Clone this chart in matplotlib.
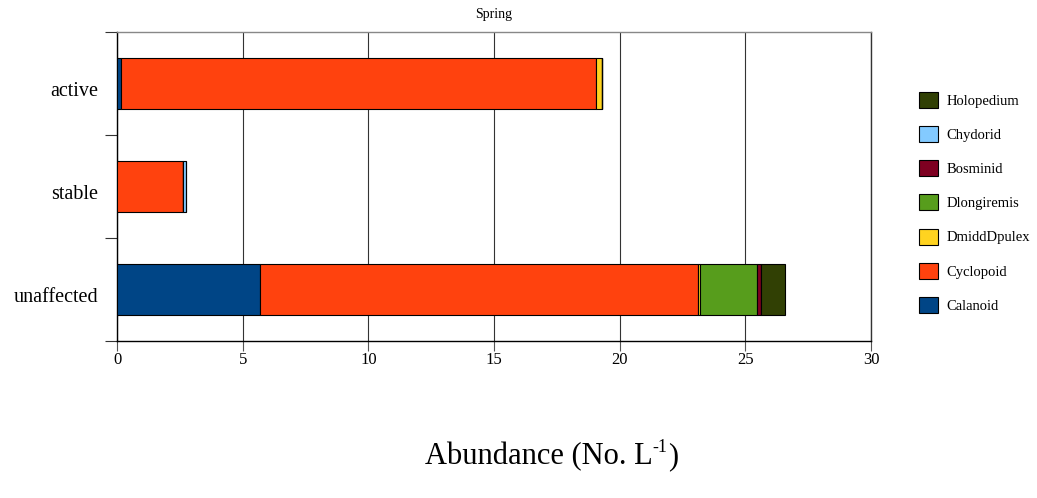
import matplotlib
matplotlib.use("Agg")
import matplotlib.pyplot as plt
import matplotlib.transforms as mtrans
import numpy as np

categories = ["unaffected", "stable", "active"]
species = ["Calanoid", "Cyclopoid", "DmiddDpulex", "Dlongiremis", "Bosminid", "Chydorid", "Holopedium"]
values = {
    "Calanoid":    [5.70, 0.00, 0.15],
    "Cyclopoid":   [17.43, 2.62, 18.90],
    "DmiddDpulex": [0.07, 0.00, 0.25],
    "Dlongiremis": [2.28, 0.00, 0.00],
    "Bosminid":    [0.15, 0.00, 0.00],
    "Chydorid":    [0.00, 0.12, 0.00],
    "Holopedium":  [0.95, 0.00, 0.00],
}
colors = ["#004586", "#ff420e", "#ffd320", "#579d1c", "#7e0021", "#83caff", "#314004"]
xticks = [0, 5, 10, 15, 20, 25, 30]

plt.rcParams['font.family'] = ['Liberation Serif', 'DejaVu Serif']

fig = plt.figure(figsize=(10.37, 4.98), dpi=100)
ax = fig.add_axes([117/1037, 1 - 341/498, (871-117)/1037, (341-32)/498])

y = np.arange(len(categories))
left = np.zeros(len(categories))
handles = []
for sp, c in zip(species, colors):
    v = np.array(values[sp])
    h = ax.barh(y, v, left=left, height=0.5, color=c, edgecolor="black", linewidth=0.8, label=sp, zorder=3)
    handles.append(h)
    left += v

ax.set_xlim(0, 30)
ax.set_ylim(-0.5, 2.5)
ax.set_xticks(xticks)
ax.set_xticklabels([str(t) for t in xticks], fontsize=12)
ax.tick_params(axis='x', length=7, width=0.8, color='#555555', direction='out', pad=1)
ax.xaxis.grid(True, color='#333333', linewidth=0.8, zorder=0)

ax.set_yticks([-0.5, 0.5, 1.5, 2.5])
ax.set_yticklabels([])
ax.set_yticks(y, minor=True)
ax.set_yticklabels(categories, minor=True, fontsize=14.5)
ax.tick_params(axis='y', which='major', length=9, width=0.8, color='#333333', direction='out')
ax.tick_params(axis='y', which='minor', length=0, pad=13.5)
off = mtrans.ScaledTranslation(0, -6/100, fig.dpi_scale_trans)
for lab in ax.get_yticklabels(minor=True):
    lab.set_transform(lab.get_transform() + off)

ax.spines['top'].set_color('#888888')
ax.spines['right'].set_color('#333333')
ax.spines['left'].set_color('black')
ax.spines['bottom'].set_color('black')
for s in ax.spines.values():
    s.set_linewidth(1.0)

ax.set_title("Spring", fontsize=10, pad=10)

# x-axis label with small superscript
fs = 22
t1 = fig.text(425/1037, 1 - 457/498, "Abundance (No. L", fontsize=fs, ha='left', va='center')
fig.canvas.draw()
r = fig.canvas.get_renderer()
bb = t1.get_window_extent(r)
x1 = bb.x1 / fig.bbox.width
t2 = fig.text(x1, 1 - 447/498, "-1", fontsize=fs * 0.58, ha='left', va='center')
bb2 = t2.get_window_extent(r)
x2 = bb2.x1 / fig.bbox.width
fig.text(x2, 1 - 457/498, ")", fontsize=fs, ha='left', va='center')

leg = fig.legend(handles[::-1], species[::-1], loc='upper left',
                 bbox_to_anchor=(906/1037, 1 - 79/498), frameon=False,
                 fontsize=10.5, handlelength=1.3, handleheight=1.3,
                 labelspacing=1.25, handletextpad=0.6)

fig.savefig("out.png", dpi=100)
